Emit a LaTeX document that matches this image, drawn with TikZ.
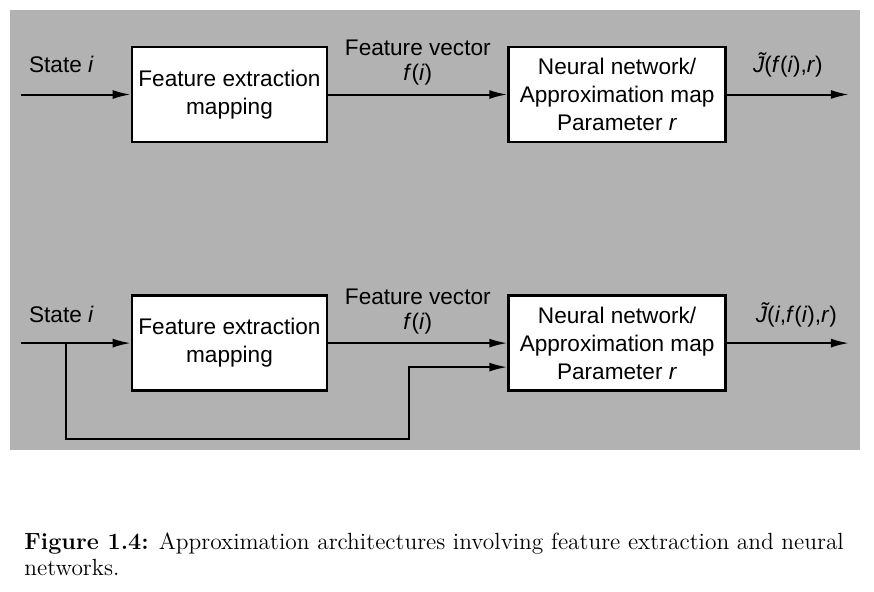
\documentclass[tikz,border=0pt]{standalone}
\usepackage{fontspec}
\newfontfamily\diagfont{Liberation Sans}
\usepackage{tikz}
\usetikzlibrary{arrows.meta, calc, positioning}

\begin{document}
\begin{tikzpicture}[x=0.5pt, y=-0.5pt,
    blockbox/.style={draw, line width=1.3pt, fill=white, minimum height=47.5pt, inner sep=0pt, align=center, font={\diagfont\fontsize{11.3}{14}\selectfont}},
    wire/.style={-{Latex[length=9pt,width=4.5pt]}, line width=1pt},
    lbl/.style={inner sep=0pt, align=center, font={\diagfont\fontsize{11.3}{12.5}\selectfont}}]
    \useasboundingbox (0,0) rectangle (874,591);
    \fill[black!30] (10,10) rectangle (860,450);

    % upper: features only
    \node[blockbox, minimum width=97.5pt] (fe1) at (229.5,94.5) {Feature extraction\\mapping};
    \node[blockbox, minimum width=108.5pt, right=89.5pt of fe1] (nn1) {Neural network/\\Approximation map\\Parameter \textit{r}};
    \coordinate[left=55pt of fe1] (in1);
    \coordinate[right=61pt of nn1] (out1);

    \draw[wire] (in1) -- node[lbl, pos=0.37, yshift=15pt] {State \textit{i}} (fe1);
    \draw[wire] (fe1) -- node[lbl, midway, yshift=15.75pt] {Feature vector\\\textit{f}(\textit{i})} (nn1);
    \draw[wire] (nn1) -- node[lbl, midway, yshift=15pt] {\textit{\~J}(\textit{f}(\textit{i}),\textit{r})} (out1);

    % lower: features and state
    \node[blockbox, minimum width=97.5pt, below=75.5pt of fe1] (fe2) {Feature extraction\\mapping};
    \node[blockbox, minimum width=108.5pt, right=89.5pt of fe2] (nn2) {Neural network/\\Approximation map\\Parameter \textit{r}};
    \coordinate[left=55pt of fe2] (in2);
    \coordinate[right=61pt of nn2] (out2);
    \coordinate (split) at ($(in2)!0.41!(fe2.west)$);

    \draw[wire] (in2) -- node[lbl, pos=0.37, yshift=14.5pt] {State \textit{i}} (fe2);
    \draw[wire] (fe2) -- node[lbl, midway, yshift=16pt] {Feature vector\\\textit{f}(\textit{i})} (nn2);
    \draw[wire] (split) -- ++(0,-48pt) -| ($(nn2.west)+(-49pt,-12pt)$) -- ($(nn2.west)+(0,-12pt)$);
    \draw[wire] (nn2) -- node[lbl, pos=0.57, yshift=14pt] {\textit{\~J}(\textit{i},\textit{f}(\textit{i}),\textit{r})} (out2);

    \node[anchor=west, inner sep=0pt, align=left, font={\rmfamily\fontsize{11.7}{13}\selectfont}] (figcap) at (24,554)
        {\textbf{Figure 1.4:} Approximation architectures involving feature extraction and neural\\networks.};
\end{tikzpicture}
\end{document}
